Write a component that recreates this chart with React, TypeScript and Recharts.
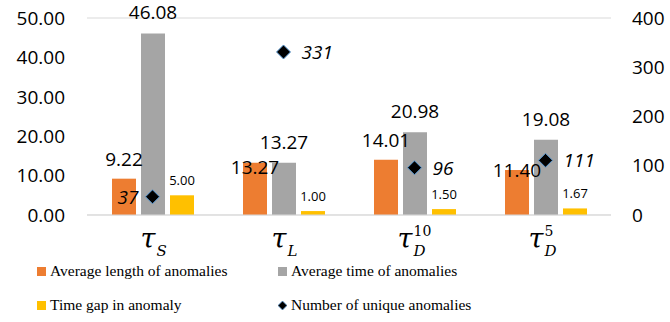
import { ComposedChart, Bar, Scatter, XAxis, YAxis, CartesianGrid, Legend, LabelList } from 'recharts'

const tauSub = ['S', 'L', 'D', 'D']
const tauSup = ['', '', '10', '5']
const avgLength = [9.22, 13.27, 14.01, 11.4]
const avgTime = [46.08, 13.27, 20.98, 19.08]
const timeGap = [5.0, 1.0, 1.5, 1.67]
const uniqueCount = [37, 331, 96, 111]
const leftTicks = [0, 10, 20, 30, 40, 50]
const rightTicks = [0, 100, 200, 300, 400]

const data = tauSub.map((sub, i) => ({
  name: 'τ' + sub + tauSup[i],
  sub,
  sup: tauSup[i],
  length: avgLength[i],
  time: avgTime[i],
  gap: timeGap[i],
  unique: uniqueCount[i],
}))

const ORANGE = '#ED7D31'
const GRAY = '#A5A5A5'
const YELLOW = '#FFC000'
const LABEL_FONT = '"Open Sans", sans-serif'

// how far above the bar top each label sits (some overlap in the original)
const orangeLift = [20, -4, 20, 0]

const makeBarLabel = (lift: number[] | number, size: number) => (props: any) => {
  const vb = props.viewBox ?? props
  const x = Number(props.x ?? vb.x)
  const y = Number(props.y ?? vb.y)
  const w = Number(props.width ?? vb.width)
  const d = Array.isArray(lift) ? lift[props.index] : lift
  return (
    <text
      x={x + w / 2}
      y={y - d}
      textAnchor="middle"
      dominantBaseline="central"
      fontSize={size}
      fontFamily={LABEL_FONT}
      fill="#000"
    >
      {Number(props.value).toFixed(2)}
    </text>
  )
}

const DiamondPoint = (props: any) => {
  const { cx, cy, payload, index } = props
  const r = 7
  const left = index === 0
  return (
    <g>
      <polygon
        points={`${cx},${cy - r} ${cx + r},${cy} ${cx},${cy + r} ${cx - r},${cy}`}
        fill="#000"
        stroke="#5B9BD5"
        strokeWidth={1}
      />
      <text
        x={left ? cx - 14 : cx + 18}
        y={cy}
        textAnchor={left ? 'end' : 'start'}
        dominantBaseline="central"
        fontSize={19}
        fontStyle="italic"
        fontFamily={LABEL_FONT}
        fill="#000"
      >
        {payload.unique}
      </text>
    </g>
  )
}

const TauTick = (props: any) => {
  const { x, y, index } = props
  const d = data[index]
  if (!d) return null
  const hasSup = d.sup !== ''
  const tx = x + (hasSup ? -2 : 3)
  const base = y + 25
  return (
    <g>
      <text x={tx} y={base} textAnchor="end" fontSize={27} fontStyle="italic" fontFamily='"DejaVu Serif", serif' fill="#000">
        τ
      </text>
      <text x={tx + 1} y={base + 8} textAnchor="start" fontSize={15} fontStyle="italic" fontFamily='"DejaVu Serif", serif' fill="#000">
        {d.sub}
      </text>
      {hasSup && (
        <text x={tx + 1} y={base - 12} textAnchor="start" fontSize={14} fontFamily='"DejaVu Serif", serif' fill="#000">
          {d.sup}
        </text>
      )}
    </g>
  )
}

const legendItems = [
  { label: 'Average length of anomalies', color: ORANGE, shape: 'square' },
  { label: 'Average time of anomalies', color: GRAY, shape: 'square' },
  { label: 'Time gap in anomaly', color: YELLOW, shape: 'square' },
  { label: 'Number of unique anomalies', color: '#000', shape: 'diamond' },
]

const ChartLegend = () => (
  <div
    style={{
      position: 'relative',
      width: 670,
      height: 72,
      fontFamily: '"Liberation Serif", "Times New Roman", serif',
      fontSize: 15.5,
      color: '#000',
    }}
  >
    {legendItems.map((item, i) => {
      const col = i % 2
      const row = Math.floor(i / 2)
      return (
        <div
          key={item.label}
          style={{
            position: 'absolute',
            left: col === 0 ? 37 : 278,
            top: row === 0 ? 11 : 45,
            display: 'flex',
            alignItems: 'center',
            whiteSpace: 'nowrap',
            lineHeight: '20px',
          }}
        >
          {item.shape === 'square' ? (
            <span style={{ display: 'inline-block', width: 9, height: 9, background: item.color, marginRight: 4 }} />
          ) : (
            <svg width={9} height={9} style={{ marginRight: 4 }}>
              <polygon points="4.5,0 9,4.5 4.5,9 0,4.5" fill="#000" stroke="#5B9BD5" strokeWidth={0.8} />
            </svg>
          )}
          <span>{item.label}</span>
        </div>
      )
    })}
  </div>
)

export default function App() {
  return (
    <div style={{ position: 'absolute', left: 0, top: 0, width: 670, height: 322, background: '#fff' }}>
      <ComposedChart
        width={670}
        height={322}
        data={data}
        margin={{ top: 18, right: 0, bottom: 0, left: 0 }}
        barSize={24}
        barGap={5}
      >
        <CartesianGrid vertical={false} stroke="#D9D9D9" />
        <XAxis
          dataKey="name"
          height={35}
          axisLine={{ stroke: '#D9D9D9' }}
          tickLine={false}
          tick={<TauTick />}
          interval={0}
        />
        <YAxis
          yAxisId="left"
          width={87}
          domain={[0, 50]}
          ticks={leftTicks}
          tickFormatter={(v: number) => v.toFixed(2)}
          axisLine={false}
          tickLine={false}
          tickSize={0}
          tickMargin={22}
          tick={{ fill: '#000', fontSize: 19, fontFamily: LABEL_FONT }}
        />
        <YAxis
          yAxisId="right"
          orientation="right"
          width={59}
          domain={[0, 400]}
          ticks={rightTicks}
          axisLine={false}
          tickLine={false}
          tickSize={0}
          tickMargin={21}
          tick={{ fill: '#000', fontSize: 19, fontFamily: LABEL_FONT }}
        />
        <Legend verticalAlign="bottom" wrapperStyle={{ left: 0, bottom: 0, width: 670, height: 72 }} content={<ChartLegend />} />
        <Bar yAxisId="left" dataKey="length" name="Average length of anomalies" fill={ORANGE} isAnimationActive={false}>
          <LabelList dataKey="length" content={makeBarLabel(orangeLift, 19)} />
        </Bar>
        <Bar yAxisId="left" dataKey="time" name="Average time of anomalies" fill={GRAY} isAnimationActive={false}>
          <LabelList dataKey="time" content={makeBarLabel(21, 19)} />
        </Bar>
        <Bar yAxisId="left" dataKey="gap" name="Time gap in anomaly" fill={YELLOW} isAnimationActive={false}>
          <LabelList dataKey="gap" content={makeBarLabel(15, 13)} />
        </Bar>
        <Scatter yAxisId="right" dataKey="unique" name="Number of unique anomalies" shape={<DiamondPoint />} isAnimationActive={false} />
      </ComposedChart>
    </div>
  )
}
